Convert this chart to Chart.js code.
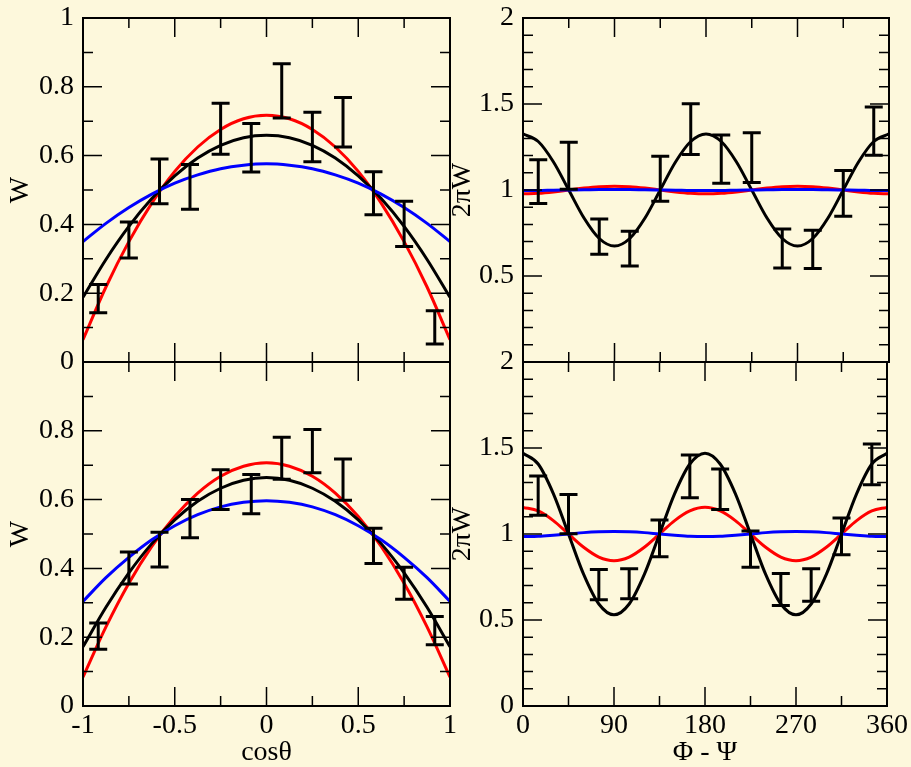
<!DOCTYPE html>
<html>
<head>
<meta charset="utf-8">
<title>W distributions</title>
<script src="https://cdn.jsdelivr.net/npm/chart.js@4.4.1/dist/chart.umd.min.js"></script>
<style>
    html, body { margin: 0; padding: 0; background: #fdf8dc; overflow: hidden; }
    #page { position: relative; width: 911px; height: 767px; }
    canvas { position: absolute; }
    #tl { left: 0; top: 0; }
    #tr { left: 440px; top: 0; }
    #bl { left: 0; top: 340px; }
    #br { left: 440px; top: 340px; }
</style>
</head>
<body>
<div id="page">
    <canvas id="tl" width="460" height="380"></canvas>
    <canvas id="tr" width="471" height="380"></canvas>
    <canvas id="bl" width="460" height="427"></canvas>
    <canvas id="br" width="471" height="427"></canvas>
</div>
<script>
// ============================================================
// DATA
// ============================================================

// curve sample points
const cosGrid = [-1, -0.875, -0.75, -0.625, -0.5, -0.375, -0.25, -0.125, 0,
    0.125, 0.25, 0.375, 0.5, 0.625, 0.75, 0.875, 1];
const phiGrid = [0, 15, 30, 45, 60, 75, 90, 105, 120, 135, 150, 165, 180,
    195, 210, 225, 240, 255, 270, 285, 300, 315, 330, 345, 360];

// top left : W vs cos theta
const tlRed = [0.065, 0.218, 0.350, 0.462, 0.554, 0.625, 0.676, 0.707, 0.717,
    0.707, 0.676, 0.625, 0.554, 0.462, 0.350, 0.218, 0.065];
const tlBlack = [0.188, 0.298, 0.394, 0.475, 0.541, 0.593, 0.630, 0.652, 0.659,
    0.652, 0.630, 0.593, 0.541, 0.475, 0.394, 0.298, 0.188];
const tlBlue = [0.350, 0.403, 0.449, 0.488, 0.520, 0.544, 0.562, 0.572, 0.576,
    0.572, 0.562, 0.544, 0.520, 0.488, 0.449, 0.403, 0.350];

// bottom left : W vs cos theta
const blRed = [0.084, 0.230, 0.357, 0.464, 0.551, 0.619, 0.668, 0.697, 0.707,
    0.697, 0.668, 0.619, 0.551, 0.464, 0.357, 0.230, 0.084];
const blBlack = [0.172, 0.287, 0.387, 0.472, 0.541, 0.595, 0.633, 0.656, 0.664,
    0.656, 0.633, 0.595, 0.541, 0.472, 0.387, 0.287, 0.172];
const blBlue = [0.304, 0.373, 0.432, 0.483, 0.524, 0.556, 0.579, 0.592, 0.597,
    0.592, 0.579, 0.556, 0.524, 0.483, 0.432, 0.373, 0.304];

// top right : 2piW vs Phi - Psi
const trRed = [0.978, 0.981, 0.989, 1.000, 1.011, 1.019, 1.022, 1.019, 1.011, 1.000, 0.989, 0.981, 0.978,
    0.981, 0.989, 1.000, 1.011, 1.019, 1.022, 1.019, 1.011, 1.000, 0.989, 0.981, 0.978];
const trBlack = [1.326, 1.282, 1.163, 1.000, 0.837, 0.718, 0.674, 0.718, 0.837, 1.000, 1.163, 1.282, 1.326,
    1.282, 1.163, 1.000, 0.837, 0.718, 0.674, 0.718, 0.837, 1.000, 1.163, 1.282, 1.326];
const trBlue = [0.997, 0.997, 0.999, 1.000, 1.001, 1.003, 1.003, 1.003, 1.001, 1.000, 0.999, 0.997, 0.997,
    0.997, 0.999, 1.000, 1.001, 1.003, 1.003, 1.003, 1.001, 1.000, 0.999, 0.997, 0.997];

// bottom right : 2piW vs Phi - Psi
const brRed = [1.155, 1.134, 1.078, 1.000, 0.923, 0.866, 0.845, 0.866, 0.923, 1.000, 1.078, 1.134, 1.155,
    1.134, 1.078, 1.000, 0.923, 0.866, 0.845, 0.866, 0.923, 1.000, 1.078, 1.134, 1.155];
const brBlack = [1.470, 1.407, 1.235, 1.000, 0.765, 0.593, 0.530, 0.593, 0.765, 1.000, 1.235, 1.407, 1.470,
    1.407, 1.235, 1.000, 0.765, 0.593, 0.530, 0.593, 0.765, 1.000, 1.235, 1.407, 1.470];
const brBlue = [0.985, 0.987, 0.993, 1.000, 1.008, 1.013, 1.015, 1.013, 1.008, 1.000, 0.993, 0.987, 0.985,
    0.987, 0.993, 1.000, 1.008, 1.013, 1.015, 1.013, 1.008, 1.000, 0.993, 0.987, 0.985];

// measured points (error bars)
const cosBins = [-0.917, -0.75, -0.583, -0.417, -0.25, -0.083, 0.083, 0.25, 0.417, 0.583, 0.75, 0.917];
const phiBins = [15, 45, 75, 105, 135, 165, 195, 225, 255, 285, 315, 345];

const tlLo = [0.143, 0.302, 0.460, 0.444, 0.604, 0.552, 0.709, 0.582, 0.625, 0.428, 0.336, 0.052];
const tlHi = [0.225, 0.407, 0.590, 0.574, 0.752, 0.693, 0.867, 0.726, 0.769, 0.553, 0.467, 0.149];
const blLo = [0.165, 0.355, 0.404, 0.489, 0.571, 0.559, 0.659, 0.678, 0.598, 0.414, 0.310, 0.178];
const blHi = [0.241, 0.448, 0.505, 0.600, 0.687, 0.673, 0.781, 0.804, 0.718, 0.517, 0.403, 0.260];
const trLo = [0.921, 1.004, 0.626, 0.558, 0.934, 1.207, 1.039, 1.043, 0.547, 0.543, 0.847, 1.202];
const trHi = [1.176, 1.277, 0.831, 0.760, 1.196, 1.502, 1.320, 1.333, 0.773, 0.766, 1.114, 1.483];
const brLo = [1.109, 1.002, 0.618, 0.624, 0.868, 1.211, 1.143, 0.806, 0.585, 0.609, 0.880, 1.287];
const brHi = [1.337, 1.229, 0.793, 0.798, 1.081, 1.459, 1.378, 1.017, 0.771, 0.798, 1.093, 1.523];

// tick marks and labels
const cosMajor = [-1, -0.5, 0, 0.5, 1];
const cosMinor = [-0.75, -0.25, 0.25, 0.75];
const phiMajor = [0, 90, 180, 270, 360];
const phiMinor = [45, 135, 225, 315];
const wMajor = [0, 0.2, 0.4, 0.6, 0.8, 1];
const wMinor = [0.1, 0.3, 0.5, 0.7, 0.9];
const pwMajor = [0, 0.5, 1, 1.5, 2];
const pwMinor = [0.1, 0.2, 0.3, 0.4, 0.6, 0.7, 0.8, 0.9, 1.1, 1.2, 1.3, 1.4, 1.6, 1.7, 1.8, 1.9];

const wLabelsTop = [0, 0.2, 0.4, 0.6, 0.8, 1];
const wLabelsBottom = [0, 0.2, 0.4, 0.6, 0.8];
const pwLabelsTop = [0.5, 1, 1.5, 2];
const pwLabelsBottom = [0, 0.5, 1, 1.5, 2];

// ============================================================
// PLUGINS
// ============================================================

Chart.defaults.font.family = "'Liberation Serif', 'Times New Roman', serif";
Chart.defaults.color = "#000";

// inward ticks on all four sides + frame
const frameTicks = {
    id: "frameTicks",
    afterDatasetsDraw(chart, args, opts) {
        if (!opts || !opts.xMajor) return;
        const { ctx, chartArea: a, scales: { x, y } } = chart;
        ctx.save();
        ctx.strokeStyle = "#000";
        ctx.lineWidth = 1.5;

        const markX = (vals, len) => vals.forEach(v => {
            const px = x.getPixelForValue(v);
            ctx.beginPath();
            ctx.moveTo(px, a.bottom); ctx.lineTo(px, a.bottom - len);
            ctx.moveTo(px, a.top); ctx.lineTo(px, a.top + len);
            ctx.stroke();
        });
        const markY = (vals, len) => vals.forEach(v => {
            const py = y.getPixelForValue(v);
            ctx.beginPath();
            ctx.moveTo(a.left, py); ctx.lineTo(a.left + len, py);
            ctx.moveTo(a.right, py); ctx.lineTo(a.right - len, py);
            ctx.stroke();
        });

        markX(opts.xMajor, 19);
        markX(opts.xMinor, 10);
        markY(opts.yMajor, 19);
        markY(opts.yMinor, 10);

        ctx.lineWidth = 2;
        ctx.strokeRect(a.left, a.top, a.width, a.height);
        ctx.restore();
    }
};

// I shaped error bars
const errorBars = {
    id: "errorBars",
    afterDatasetsDraw(chart, args, opts) {
        if (!opts || !opts.x) return;
        const { ctx, scales: { x, y } } = chart;
        ctx.save();
        ctx.strokeStyle = "#000";
        ctx.lineWidth = 3;
        opts.x.forEach((xv, i) => {
            const px = x.getPixelForValue(xv);
            const p1 = y.getPixelForValue(opts.lo[i]);
            const p2 = y.getPixelForValue(opts.hi[i]);
            ctx.beginPath();
            ctx.moveTo(px, p1); ctx.lineTo(px, p2);
            ctx.moveTo(px - 9, p1); ctx.lineTo(px + 9, p1);
            ctx.moveTo(px - 9, p2); ctx.lineTo(px + 9, p2);
            ctx.stroke();
        });
        ctx.restore();
    }
};

Chart.register(frameTicks, errorBars);

// ============================================================
// PANEL FACTORY
// ============================================================

function curve(xs, ys, color) {
    return {
        data: xs.map((v, i) => ({ x: v, y: ys[i] })),
        borderColor: color,
        borderWidth: 3,
        pointRadius: 0,
        fill: false,
        cubicInterpolationMode: "monotone"
    };
}

function makePanel(id, p) {
    const bottomRow = !!p.xLabels;
    return new Chart(document.getElementById(id), {
        type: "line",
        data: {
            datasets: [
                curve(p.grid, p.blue, "#0000ff"),
                curve(p.grid, p.black, "#000000"),
                curve(p.grid, p.red, "#ff0000")
            ]
        },
        options: {
            responsive: false,
            animation: false,
            events: [],
            layout: {
                padding: {
                    top: bottomRow ? 22 : 18,
                    bottom: bottomRow ? 0 : 18,
                    left: 0,
                    right: p.padRight
                }
            },
            plugins: {
                legend: { display: false },
                tooltip: { enabled: false },
                frameTicks: {
                    xMajor: p.xMajor, xMinor: p.xMinor,
                    yMajor: p.yMajor, yMinor: p.yMinor
                },
                errorBars: { x: p.bins, lo: p.lo, hi: p.hi }
            },
            scales: {
                x: {
                    type: "linear",
                    min: p.xMin,
                    max: p.xMax,
                    display: bottomRow,
                    grid: { display: false, drawTicks: false },
                    border: { display: false },
                    afterBuildTicks: s => {
                        s.ticks = (p.xLabels || p.xMajor).map(v => ({ value: v }));
                    },
                    afterFit: s => { s.height = bottomRow ? 61 : 0; },
                    ticks: {
                        padding: 3,
                        autoSkip: false,
                        maxRotation: 0,
                        font: { size: 28 },
                        callback: v => String(v)
                    },
                    title: {
                        display: bottomRow,
                        text: p.xTitle,
                        font: { size: 28, lineHeight: 1 },
                        padding: { top: 0, bottom: 0 }
                    }
                },
                y: {
                    type: "linear",
                    min: p.yMin,
                    max: p.yMax,
                    grid: { display: false, drawTicks: false },
                    border: { display: false },
                    afterBuildTicks: s => {
                        s.ticks = p.yLabels.map(v => ({ value: v }));
                    },
                    afterFit: s => {
                        s.width = 83;
                        s.paddingTop = 0;
                        s.paddingBottom = 0;
                    },
                    ticks: {
                        padding: 9,
                        autoSkip: false,
                        font: { size: 28, lineHeight: 0.4 },
                        callback: v => String(v)
                    },
                    title: {
                        display: true,
                        text: p.yTitle,
                        font: { size: 28, lineHeight: 1 },
                        padding: { top: p.titlePad, bottom: 0 }
                    }
                }
            }
        }
    });
}

// ============================================================
// RENDER
// ============================================================

const leftCommon = {
    grid: cosGrid, bins: cosBins, xMin: -1, xMax: 1, yMin: 0, yMax: 1,
    xMajor: cosMajor, xMinor: cosMinor, yMajor: wMajor, yMinor: wMinor,
    yTitle: "W", xTitle: "cosθ", padRight: 10, titlePad: 6.5
};

const rightCommon = {
    grid: phiGrid, bins: phiBins, xMin: 0, xMax: 360, yMin: 0, yMax: 2,
    xMajor: phiMajor, xMinor: phiMinor, yMajor: pwMajor, yMinor: pwMinor,
    yTitle: "2πW", xTitle: "Φ - Ψ", padRight: 22, titlePad: 8.5
};

makePanel("tl", Object.assign({}, leftCommon, {
    red: tlRed, black: tlBlack, blue: tlBlue, lo: tlLo, hi: tlHi,
    yLabels: wLabelsTop, xLabels: null
}));

makePanel("bl", Object.assign({}, leftCommon, {
    red: blRed, black: blBlack, blue: blBlue, lo: blLo, hi: blHi,
    yLabels: wLabelsBottom, xLabels: cosMajor
}));

makePanel("tr", Object.assign({}, rightCommon, {
    red: trRed, black: trBlack, blue: trBlue, lo: trLo, hi: trHi,
    yLabels: pwLabelsTop, xLabels: null
}));

makePanel("br", Object.assign({}, rightCommon, {
    red: brRed, black: brBlack, blue: brBlue, lo: brLo, hi: brHi,
    yLabels: pwLabelsBottom, xLabels: phiMajor
}));
</script>
</body>
</html>
